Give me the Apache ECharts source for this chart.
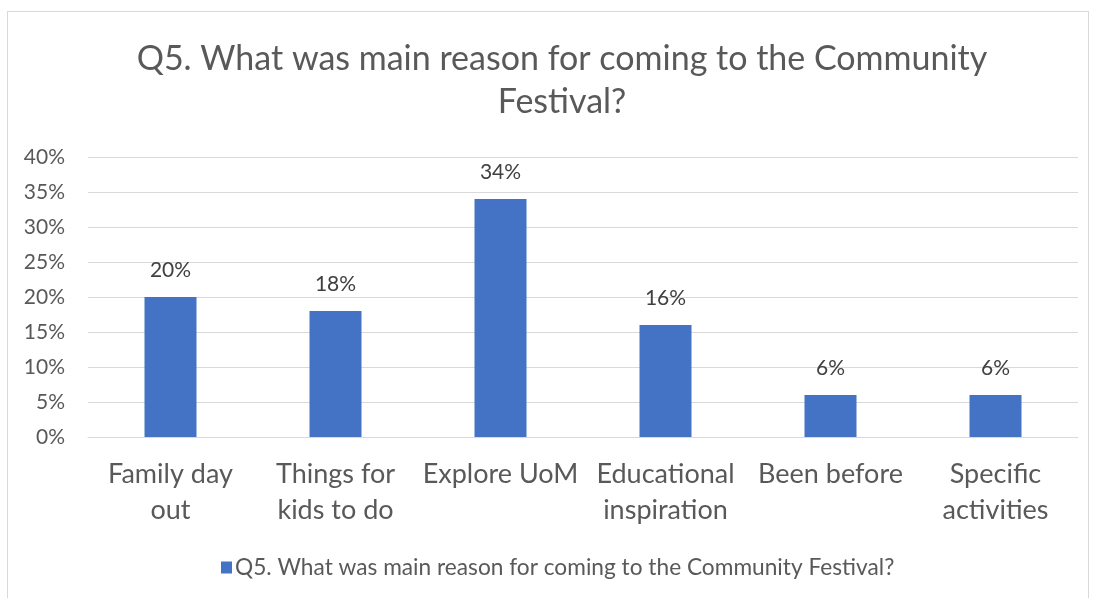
<!DOCTYPE html>
<html><head><meta charset="utf-8">
<script src="https://cdn.jsdelivr.net/npm/echarts@6/dist/echarts.min.js"></script>
<style>
html,body{margin:0;padding:0;background:#fff;}
#frame{position:absolute;left:7px;top:11px;width:1082px;height:600px;border:1px solid #d9d9d9;box-sizing:border-box;}
#c{position:absolute;left:0;top:0;width:1093px;height:598px;}
</style></head>
<body><div id="frame"></div><div id="c"></div>
<script>
const categories = ['Family day\nout','Things for\nkids to do','Explore UoM','Educational\ninspiration','Been before','Specific\nactivities'];
const values = [20, 18, 34, 16, 6, 6];
const seriesName = 'Q5. What was main reason for coming to the Community Festival?';
const titleText = 'Q5. What was main reason for coming to the Community\nFestival?';
const FONT = 'Lato, "Open Sans", sans-serif';
const chart = echarts.init(document.getElementById('c'));
chart.setOption({
  backgroundColor: 'transparent',
  animation: false,
  title: {
    text: titleText, left: 557, top: 33, textAlign: 'center',
    textStyle: {fontFamily: FONT, fontSize: 34, fontWeight: 'normal', color: '#595959', lineHeight: 43}
  },
  legend: {
    data: [seriesName], top: 551, left: 216, padding: [5, 5, 5, 5], itemWidth: 11, itemHeight: 12, itemGap: 4,
    icon: 'rect',
    textStyle: {fontFamily: FONT, fontSize: 22.7, color: '#595959', padding: [0,0,0,-2]}
  },
  grid: {left: 88, right: 15, top: 157, bottom: 161, containLabel: false},
  xAxis: {
    type: 'category', data: categories,
    axisLine: {lineStyle: {color: '#d9d9d9'}}, axisTick: {show: false},
    axisLabel: {fontFamily: FONT, fontSize: 27, color: '#595959', lineHeight: 36, margin: 19, interval: 0}
  },
  yAxis: {
    type: 'value', min: 0, max: 40, interval: 5,
    axisLabel: {fontFamily: FONT, fontSize: 21, color: '#595959', formatter: '{value}%', margin: 23},
    splitLine: {lineStyle: {color: '#d9d9d9', width: 1}},
    axisLine: {show: false}, axisTick: {show: false}
  },
  series: [{
    name: seriesName, type: 'bar', data: values, barWidth: 52,
    itemStyle: {color: '#4472c4'},
    label: {show: true, position: 'top', distance: 16, formatter: '{c}%', fontFamily: FONT, fontSize: 21, color: '#404040'}
  }]
});
</script></body></html>
